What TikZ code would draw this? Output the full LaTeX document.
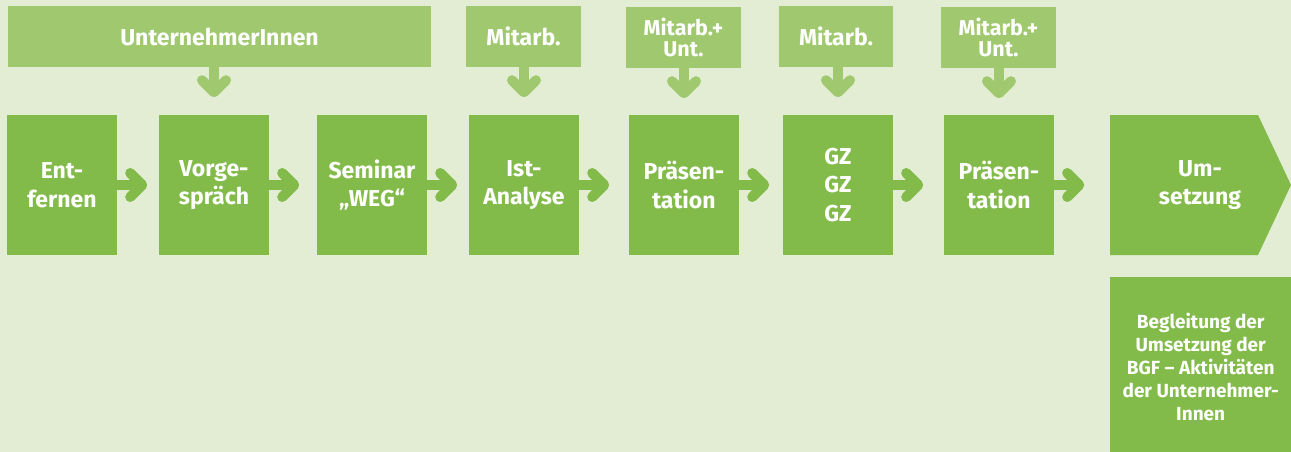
\documentclass[tikz,border=0pt]{standalone}
\usepackage{fontspec}
\setmainfont{Fira Sans}
\usetikzlibrary{calc}
\definecolor{bg}{RGB}{226,237,211}
\definecolor{topg}{RGB}{160,201,111}
\definecolor{maing}{RGB}{130,187,74}
\newcommand\rconn[2]{%
  \draw[stemM] (#1.east) -- ($(#1.east)!25pt!(#1.east -| #2.west)$) coordinate (#1-tip);
  \draw[chevM] ($(#1-tip)+(-12,-12)$) -- (#1-tip) -- ($(#1-tip)+(-12,12)$);}
\newcommand\dconn[2]{%
  \draw[stemT] (#2.north |- #1.south) -- ++(0,25) coordinate (#2-dtip);
  \draw[chevT] ($(#2-dtip)+(-12,-12)$) -- (#2-dtip) -- ($(#2-dtip)+(12,-12)$);}
\begin{document}
\begin{tikzpicture}[x=1pt,y=-1pt,
  topbox/.style={fill=topg, inner sep=0, minimum height=61, text=white, align=center,
    font=\bfseries\fontsize{23}{20}\selectfont},
  topboxsm/.style={topbox, font=\bfseries\fontsize{21.5}{20.5}\selectfont},
  mainbox/.style={fill=maing, inner sep=0, minimum width=110, minimum height=140, text=white, align=center,
    font=\bfseries\fontsize{23}{28.5}\selectfont},
  stemM/.style={draw=maing, line width=10pt},
  chevM/.style={draw=maing, line width=10pt, line cap=round, line join=round},
  stemT/.style={draw=topg, line width=10pt},
  chevT/.style={draw=topg, line width=10pt, line cap=round, line join=round}]
\useasboundingbox (0,0) rectangle (1291,452);
\clip (0,0) rectangle (1291,452);
\fill[bg] (0,0) rectangle (1291,452);
% top boxes
\node[topbox, minimum width=423] (tUI) at (219.5,36.5) {UnternehmerInnen};
\node[topbox, minimum width=115] (tM1) at (523.5,36.5) {Mitarb.};
\node[topboxsm, minimum width=115] (tMU1) at (683.5,37.5) {Mitarb.+\\Unt.};
\node[topbox, minimum width=114] (tM2) at (836,36.5) {Mitarb.};
\node[topboxsm, minimum width=115] (tMU2) at (998.5,37.5) {Mitarb.+\\Unt.};
% main boxes
\node[mainbox] (b1) at (62,185) {Ent-\\fernen};
\node[mainbox] (b2) at (214,185) {Vorge-\\spräch};
\node[mainbox] (b3) at (372,185) {Seminar\\„WEG“};
\node[mainbox] (b4) at (524,185) {Ist-\\Analyse};
\node[mainbox] (b5) at (684,185) {Präsen-\\tation};
\node[mainbox] (b6) at (838,185) {GZ\\GZ\\GZ};
\node[mainbox] (b7) at (999,185) {Präsen-\\tation};
\fill[maing] (1110,115) -- (1258,115) -- (1291,185) -- (1258,255) -- (1110,255) -- cycle;
\node[text=white, align=center, inner sep=0, font=\bfseries\fontsize{23}{28.5}\selectfont] (um) at (1200,185) {Um-\\setzung};
\node[mainbox, minimum width=181, minimum height=180, anchor=north west,
  font=\bfseries\fontsize{19}{23}\selectfont] (beg) at (1110,277)
  {Begleitung der\\Umsetzung der\\BGF – Aktivitäten\\der Unternehmer-\\Innen};
% connectors
\rconn{b1}{b2}
\rconn{b2}{b3}
\rconn{b3}{b4}
\rconn{b4}{b5}
\rconn{b5}{b6}
\rconn{b6}{b7}
\rconn{b7}{um}
\dconn{tUI}{b2}
\dconn{tM1}{b4}
\dconn{tMU1}{b5}
\dconn{tM2}{b6}
\dconn{tMU2}{b7}
\end{tikzpicture}
\end{document}
